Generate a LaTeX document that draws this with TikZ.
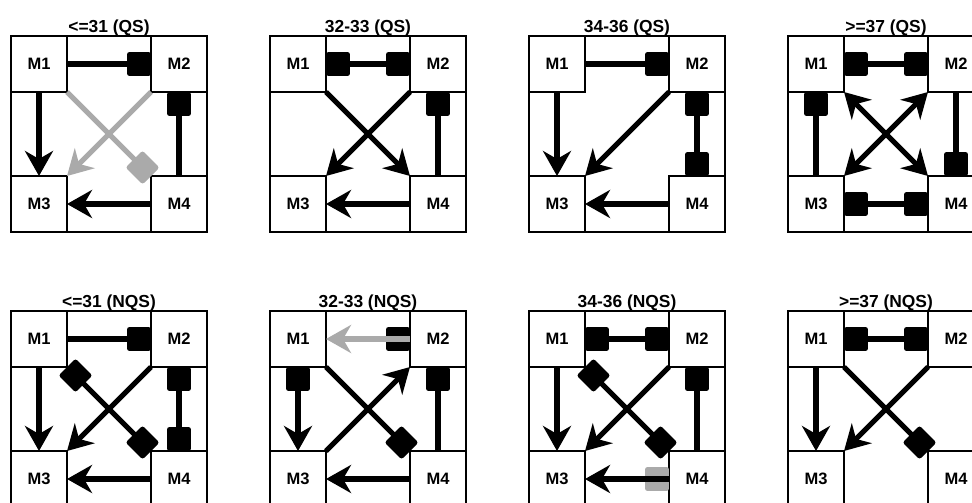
\documentclass[tikz,border=0pt]{standalone}
\usepackage{fontspec}
\setmainfont{Liberation Sans}
\usetikzlibrary{arrows.meta}
\definecolor{fadedwire}{RGB}{170,170,170}
\tikzset{
  Pointer/.tip={Stealth[length=25pt,width=28pt,inset=8pt]},
  Plate/.tip={Square[length=24pt,width=24pt,round]},
  gridline/.style={line width=1.9pt},
  cell/.style={draw, line width=1.9pt, minimum size=56pt, inner sep=0pt, outer sep=0pt,
    font=\fontsize{16.5}{19}\selectfont\bfseries},
  caption/.style={anchor=base, inner sep=0pt, font=\fontsize{17.4}{21}\selectfont\bfseries},
  wire/.style={line width=5.2pt, draw=black},
  faded/.style={color=fadedwire},
}
% frame of one panel: outer square, four corner cells and the caption
\newcommand\drawpanelframe[1]{%
  \draw[gridline] (0,0) rectangle (196,196);
  \node[cell] (M1) at (28,28) {M1};
  \node[cell] (M2) at (168,28) {M2};
  \node[cell] (M3) at (28,168) {M3};
  \node[cell] (M4) at (168,168) {M4};
  \node[caption] (title) at (98,-3.5) {#1};
}
\begin{document}
\begin{tikzpicture}[x=1pt,y=-1pt]
\useasboundingbox (0,0) rectangle (972,503);
\fill[white] (0,0) rectangle (972,503);
\clip (0,0) rectangle (972,503);

% ---- upper row ----
\begin{scope}[shift={(11,36)}, name prefix=qa-]
  \drawpanelframe{<=31 (QS)}
  \draw[wire, -Plate] (M1.east) -- (M2.west);
  \draw[wire, -Pointer] (M1.south) -- (M3.north);
  \draw[wire, Plate-] (M2.south) -- (M4.north);
  \draw[wire, -Pointer] (M4.west) -- (M3.east);
  \draw[wire, faded, -Plate] (M1.south east) -- (M4.north west);
  \draw[wire, faded, -Pointer] (M2.south west) -- (M3.north east);
\end{scope}

\begin{scope}[shift={(270,36)}, name prefix=qb-]
  \drawpanelframe{32-33 (QS)}
  \draw[wire, Plate-Plate] (M1.east) -- (M2.west);
  \draw[wire, Plate-] (M2.south) -- (M4.north);
  \draw[wire, -Pointer] (M4.west) -- (M3.east);
  \draw[wire, -Pointer] (M1.south east) -- (M4.north west);
  \draw[wire, -Pointer] (M2.south west) -- (M3.north east);
\end{scope}

\begin{scope}[shift={(529,36)}, name prefix=qc-]
  \drawpanelframe{34-36 (QS)}
  \draw[wire, -Plate] (M1.east) -- (M2.west);
  \draw[wire, -Pointer] (M1.south) -- (M3.north);
  \draw[wire, Plate-Plate] (M2.south) -- (M4.north);
  \draw[wire, -Pointer] (M4.west) -- (M3.east);
  \draw[wire, -Pointer] (M2.south west) -- (M3.north east);
\end{scope}

\begin{scope}[shift={(788,36)}, name prefix=qd-]
  \drawpanelframe{>=37 (QS)}
  \draw[wire, Plate-Plate] (M1.east) -- (M2.west);
  \draw[wire, Plate-] (M1.south) -- (M3.north);
  \draw[wire, -Plate] (M2.south) -- (M4.north);
  \draw[wire, Plate-Plate] (M3.east) -- (M4.west);
  \draw[wire, Pointer-Pointer] (M1.south east) -- (M4.north west);
  \draw[wire, Pointer-Pointer] (M2.south west) -- (M3.north east);
\end{scope}

% ---- lower row ----
\begin{scope}[shift={(11,311)}, name prefix=na-]
  \drawpanelframe{<=31 (NQS)}
  \draw[wire, -Plate] (M1.east) -- (M2.west);
  \draw[wire, -Pointer] (M1.south) -- (M3.north);
  \draw[wire, Plate-Plate] (M2.south) -- (M4.north);
  \draw[wire, -Pointer] (M4.west) -- (M3.east);
  \draw[wire, Plate-Plate] (M1.south east) -- (M4.north west);
  \draw[wire, -Pointer] (M2.south west) -- (M3.north east);
\end{scope}

\begin{scope}[shift={(270,311)}, name prefix=nb-]
  \drawpanelframe{32-33 (NQS)}
  \draw[wire, -Plate, shorten <=40pt] (M1.east) -- (M2.west);
  \draw[wire, faded, Pointer-] (M1.east) -- (M2.west);
  \draw[wire, Plate-Pointer] (M1.south) -- (M3.north);
  \draw[wire, Plate-] (M2.south) -- (M4.north);
  \draw[wire, -Pointer] (M4.west) -- (M3.east);
  \draw[wire, -Plate] (M1.south east) -- (M4.north west);
  \draw[wire, -Pointer] (M3.north east) -- (M2.south west);
\end{scope}

\begin{scope}[shift={(529,311)}, name prefix=nc-]
  \drawpanelframe{34-36 (NQS)}
  \draw[wire, Plate-Plate] (M1.east) -- (M2.west);
  \draw[wire, -Pointer] (M1.south) -- (M3.north);
  \draw[wire, Plate-] (M2.south) -- (M4.north);
  \draw[wire, faded, -Plate, shorten <=40pt] (M3.east) -- (M4.west);
  \draw[wire, -Pointer] (M4.west) -- (M3.east);
  \draw[wire, Plate-Plate] (M1.south east) -- (M4.north west);
  \draw[wire, -Pointer] (M2.south west) -- (M3.north east);
\end{scope}

\begin{scope}[shift={(788,311)}, name prefix=nd-]
  \drawpanelframe{>=37 (NQS)}
  \draw[wire, Plate-Plate] (M1.east) -- (M2.west);
  \draw[wire, -Pointer] (M1.south) -- (M3.north);
  \draw[wire, -Plate] (M1.south east) -- (M4.north west);
  \draw[wire, -Pointer] (M2.south west) -- (M3.north east);
\end{scope}
\end{tikzpicture}
\end{document}
